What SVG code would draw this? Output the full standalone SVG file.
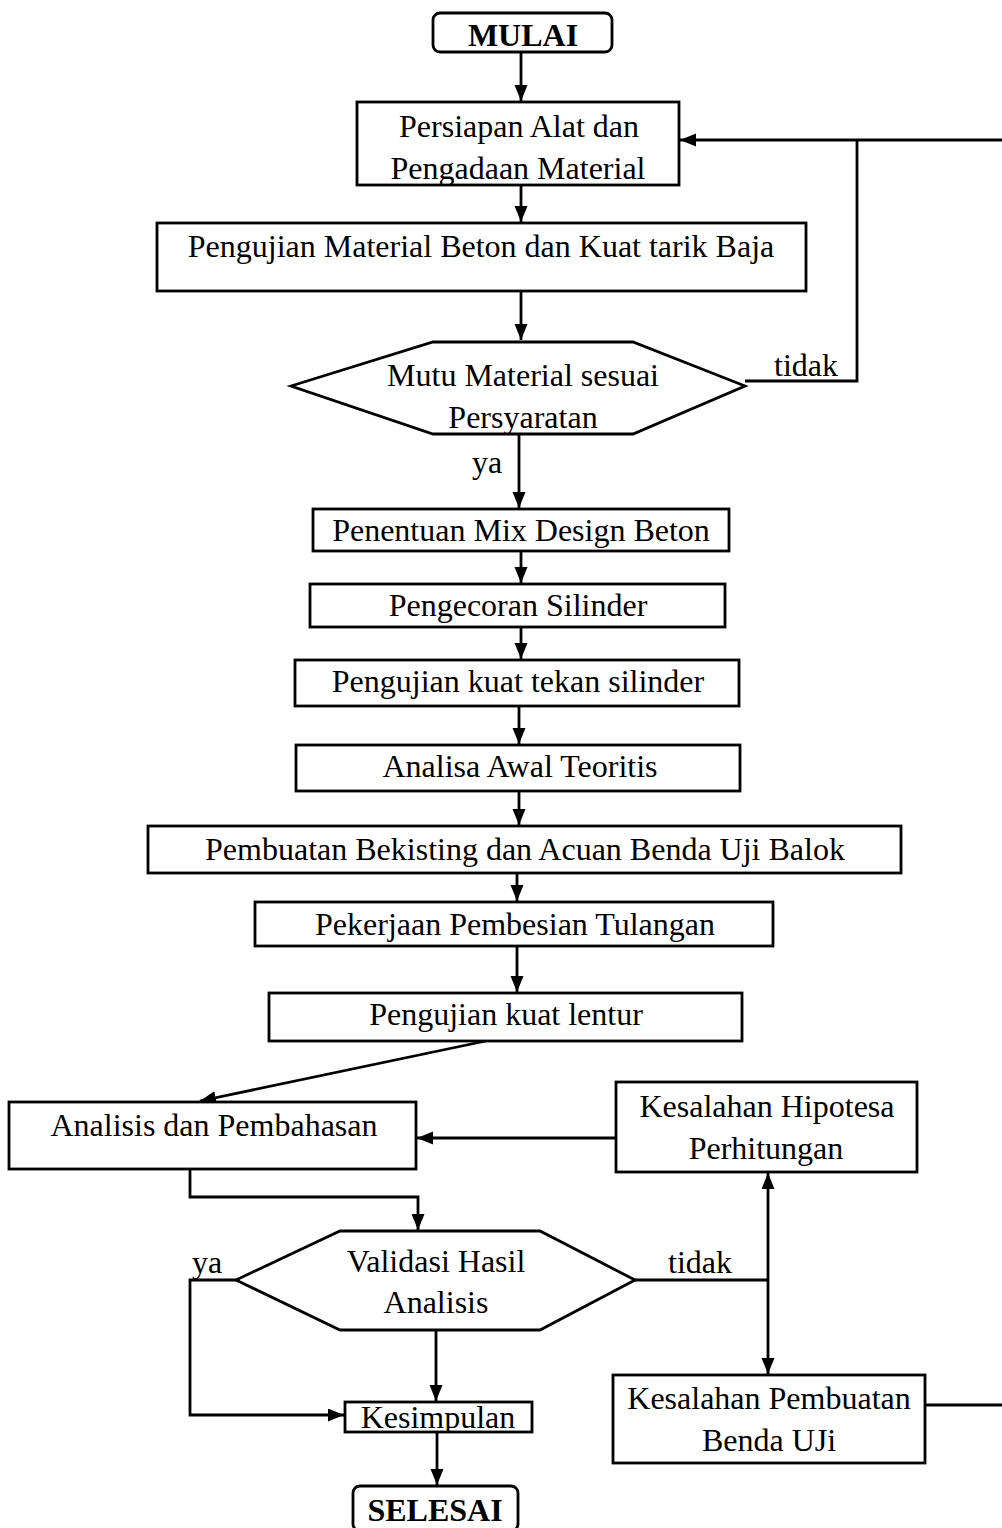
<svg xmlns="http://www.w3.org/2000/svg" width="1002" height="1528" viewBox="0 0 1002 1528">
<style>
.b{fill:#fff;stroke:#000;stroke-width:2.8}
.t{font-family:"Liberation Serif","Times New Roman",serif;font-size:32px;fill:#000;text-anchor:middle}
.tb{font-weight:bold}
.c{fill:none;stroke:#000;stroke-width:2.8}
</style>
<defs>
<marker id="ah" markerUnits="userSpaceOnUse" markerWidth="18" markerHeight="14" refX="16" refY="6.5" orient="auto">
<path d="M0,0 L16,6.5 L0,13 Z" fill="#000"/>
</marker>
<clipPath id="cp1"><rect x="357" y="102" width="322" height="82"/></clipPath>
<clipPath id="cp2"><rect x="300" y="342" width="440" height="91"/></clipPath>
<clipPath id="cp3"><rect x="345" y="1402" width="187" height="29"/></clipPath>
</defs>
<rect width="1002" height="1528" fill="#fff"/>
<g id="connectors">
<line class="c" x1="521" y1="52" x2="521" y2="101" marker-end="url(#ah)"/>
<line class="c" x1="521" y1="185" x2="521" y2="222" marker-end="url(#ah)"/>
<line class="c" x1="521" y1="291" x2="521" y2="340" marker-end="url(#ah)"/>
<polyline class="c" points="745,381 857,381 857,140"/>
<line class="c" x1="1002" y1="140" x2="680" y2="140" marker-end="url(#ah)"/>
<line class="c" x1="519" y1="434" x2="519" y2="508" marker-end="url(#ah)"/>
<line class="c" x1="521" y1="551" x2="521" y2="583" marker-end="url(#ah)"/>
<line class="c" x1="521" y1="627" x2="521" y2="659" marker-end="url(#ah)"/>
<line class="c" x1="519" y1="706" x2="519" y2="744" marker-end="url(#ah)"/>
<line class="c" x1="519" y1="791" x2="519" y2="825" marker-end="url(#ah)"/>
<line class="c" x1="517" y1="873" x2="517" y2="901" marker-end="url(#ah)"/>
<line class="c" x1="517" y1="946" x2="517" y2="992" marker-end="url(#ah)"/>
<line class="c" x1="500" y1="1038" x2="200" y2="1101" marker-end="url(#ah)"/>
<line class="c" x1="616" y1="1138" x2="417" y2="1138" marker-end="url(#ah)"/>
<polyline class="c" points="190,1169 190,1197 418,1197 418,1230" marker-end="url(#ah)"/>
<polyline class="c" points="236,1280 190,1280 190,1415 344,1415" marker-end="url(#ah)"/>
<line class="c" x1="436" y1="1330" x2="436" y2="1401" marker-end="url(#ah)"/>
<line class="c" x1="437" y1="1432" x2="437" y2="1485" marker-end="url(#ah)"/>
<line class="c" x1="635" y1="1280" x2="768" y2="1280"/>
<line class="c" x1="768" y1="1280" x2="768" y2="1173" marker-end="url(#ah)"/>
<line class="c" x1="768" y1="1280" x2="768" y2="1374" marker-end="url(#ah)"/>
<line class="c" x1="925" y1="1405" x2="1002" y2="1405"/>
<text class="t" x="806" y="376">tidak</text>
<text class="t" x="487" y="473">ya</text>
<text class="t" x="207" y="1273">ya</text>
<text class="t" x="700" y="1273">tidak</text>
</g>
<g id="mulai">
<rect class="b" x="433" y="13" width="179" height="39" rx="7"/>
<text class="t tb" x="523" y="46">MULAI</text>
</g>
<g id="persiapan">
<rect class="b" x="357" y="102" width="322" height="83"/>
<text class="t" x="519" y="137">Persiapan Alat dan</text>
<text class="t" x="518" y="179" clip-path="url(#cp1)">Pengadaan Material</text>
</g>
<g id="pengujian-material">
<rect class="b" x="157" y="223" width="649" height="68"/>
<text class="t" x="481" y="257">Pengujian Material Beton dan Kuat tarik Baja</text>
</g>
<g id="mutu">
<polygon class="b" points="291,386 433,342 633,342 745,386 633,434 433,434"/>
<text class="t" x="523" y="386">Mutu Material sesuai</text>
<text class="t" x="523" y="428" clip-path="url(#cp2)">Persyaratan</text>
</g>
<g id="mix">
<rect class="b" x="313" y="509" width="416" height="42"/>
<text class="t" x="521" y="541">Penentuan Mix Design Beton</text>
</g>
<g id="pengecoran">
<rect class="b" x="310" y="584" width="415" height="43"/>
<text class="t" x="518" y="616">Pengecoran Silinder</text>
</g>
<g id="kuat-tekan">
<rect class="b" x="295" y="660" width="444" height="46"/>
<text class="t" x="518" y="692">Pengujian kuat tekan silinder</text>
</g>
<g id="analisa-awal">
<rect class="b" x="296" y="745" width="444" height="46"/>
<text class="t" x="520" y="777">Analisa Awal Teoritis</text>
</g>
<g id="bekisting">
<rect class="b" x="148" y="826" width="753" height="47"/>
<text class="t" x="525" y="860">Pembuatan Bekisting dan Acuan Benda Uji Balok</text>
</g>
<g id="pembesian">
<rect class="b" x="255" y="902" width="518" height="44"/>
<text class="t" x="515" y="935">Pekerjaan Pembesian Tulangan</text>
</g>
<g id="kuat-lentur">
<rect class="b" x="269" y="993" width="473" height="48"/>
<text class="t" x="506" y="1025">Pengujian kuat lentur</text>
</g>
<g id="analisis">
<rect class="b" x="9" y="1102" width="407" height="67"/>
<text class="t" x="214" y="1136">Analisis dan Pembahasan</text>
</g>
<g id="hipotesa">
<rect class="b" x="616" y="1082" width="301" height="90"/>
<text class="t" x="767" y="1117">Kesalahan Hipotesa</text>
<text class="t" x="766" y="1159">Perhitungan</text>
</g>
<g id="validasi">
<polygon class="b" points="236,1280 340,1231 540,1231 635,1280 540,1330 340,1330"/>
<text class="t" x="436" y="1272">Validasi Hasil</text>
<text class="t" x="436" y="1313">Analisis</text>
</g>
<g id="kesimpulan">
<rect class="b" x="345" y="1402" width="187" height="30"/>
<text class="t" x="438" y="1428" clip-path="url(#cp3)">Kesimpulan</text>
</g>
<g id="pembuatan">
<rect class="b" x="613" y="1375" width="312" height="88"/>
<text class="t" x="769" y="1409">Kesalahan Pembuatan</text>
<text class="t" x="769" y="1451">Benda UJi</text>
</g>
<g id="selesai">
<rect class="b" x="353" y="1486" width="165" height="45" rx="7"/>
<text class="t tb" x="435" y="1521">SELESAI</text>
</g>
</svg>
